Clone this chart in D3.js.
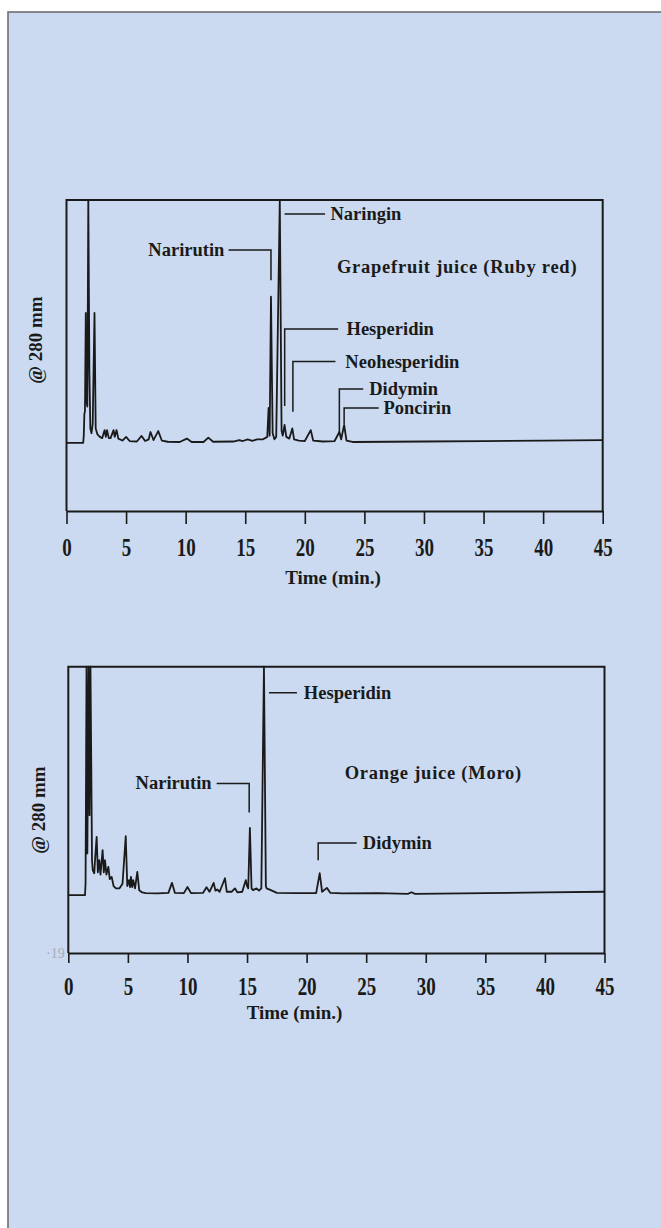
<!DOCTYPE html>
<html>
<head>
<meta charset="utf-8">
<script src="https://cdn.jsdelivr.net/npm/d3@7"></script>
<style>
  html, body { margin: 0; padding: 0; background: #fff; }
  svg { display: block; }
  text { font-family: "Liberation Serif", "Times New Roman", serif; fill: #1a1a1a; }
</style>
</head>
<body>
<svg id="chart" width="661" height="1228"></svg>
<script>
// time axis ticks (min.)
const timeTicks = [0, 5, 10, 15, 20, 25, 30, 35, 40, 45];

// Grapefruit juice (Ruby red) trace: [time (min), signal], baseline = 0, frame top = 100
const grapefruitTrace = [
  [0, 0], [1.4, 0], [1.45, 3], [1.5, 12], [1.55, 13], [1.62, 53.5], [1.68, 17], [1.75, 15],
  [1.83, 130], [1.92, 30], [2.0, 6], [2.1, 4], [2.2, 8], [2.35, 53.5], [2.45, 6], [2.6, 3.5],
  [2.8, 2.5], [3.0, 2], [3.2, 5.3], [3.3, 2.5], [3.4, 5.3], [3.55, 2], [3.7, 2], [3.95, 5.3],
  [4.05, 2.5], [4.2, 5.3], [4.35, 1.8], [4.7, 1], [5.0, 2.5], [5.3, 0.8], [5.9, 0.6], [6.3, 2.9],
  [6.6, 0.8], [6.9, 1.5], [7.05, 4.5], [7.3, 1.2], [7.7, 4.9], [8.0, 1], [8.5, 0.5], [9.5, 0.4],
  [10.1, 1.8], [10.5, 0.4], [11.5, 0.4], [11.9, 2.2], [12.3, 0.5], [14.0, 0.6], [14.5, 1.2],
  [14.8, 0.8], [15.2, 1.5], [15.6, 0.9], [16.0, 1.5], [16.5, 1.5], [16.85, 2.5], [16.96, 14.4],
  [17.05, 3], [17.16, 60.2], [17.3, 4], [17.45, 1.5], [17.6, 2.5], [17.9, 130], [18.05, 5],
  [18.15, 3], [18.3, 7.4], [18.45, 2.5], [18.7, 1.8], [18.95, 6], [19.1, 1.5], [19.5, 1],
  [20.0, 0.8], [20.5, 5.3], [20.7, 1], [21.5, 0.6], [22.5, 0.8], [22.9, 4.5], [23.05, 1.5],
  [23.3, 7.4], [23.5, 1], [24, 0.4], [30, 0.6], [35, 0.8], [40, 1], [45, 1.2]
];

// Orange juice (Moro) trace
const orangeTrace = [
  [0, 0], [1.4, 0], [1.45, 5.2], [1.53, 130], [1.6, 18.3], [1.7, 130], [1.78, 35], [1.86, 130],
  [1.99, 15.3], [2.05, 11], [2.18, 9.6], [2.25, 16], [2.38, 25.5], [2.48, 10], [2.6, 15.3],
  [2.7, 9], [2.88, 19.7], [2.98, 10], [3.08, 15.3], [3.2, 9], [3.36, 12.4], [3.48, 7], [3.64, 8],
  [3.8, 4], [4.0, 3], [4.3, 3], [4.55, 5], [4.82, 25.8], [4.95, 4], [5.1, 6.6], [5.18, 3.5],
  [5.26, 8], [5.36, 3.5], [5.45, 6.6], [5.6, 3], [5.79, 10.2], [5.95, 2.2], [6.2, 1.2],
  [6.5, 0.9], [7.5, 0.8], [8.4, 1], [8.7, 5.4], [8.95, 1], [9.7, 0.9], [10.0, 3.6], [10.3, 0.9],
  [11.3, 1], [11.6, 3.5], [11.85, 1.5], [12.2, 5.4], [12.35, 2], [12.5, 2.5], [12.7, 1.5],
  [13.15, 7.4], [13.3, 1.5], [13.7, 1.5], [13.98, 3], [14.2, 1.2], [14.6, 1.5], [14.8, 5],
  [14.9, 6.6], [15.0, 4], [15.1, 3], [15.24, 29.4], [15.38, 3], [15.5, 2.2], [15.8, 3],
  [16.0, 2], [16.2, 3], [16.42, 130], [16.58, 4], [16.64, 3], [17.0, 2.2], [17.5, 1], [19, 0.9],
  [20.8, 0.9], [21.1, 9.6], [21.3, 1.5], [21.7, 3.2], [22.0, 1], [23, 0.8], [26, 0.9],
  [28.5, 0.6], [28.8, 1.3], [29.1, 0.6], [35, 0.9], [40, 1.2], [45, 1.5]
];

// peak names
const grapefruitPeaks = ["Narirutin", "Naringin", "Hesperidin", "Neohesperidin", "Didymin", "Poncirin"];
const orangePeaks = ["Narirutin", "Hesperidin", "Didymin"];

const titles = ["Grapefruit juice (Ruby red)", "Orange juice (Moro)"];
const yLabel = "@ 280 mm";
const xLabel = "Time (min.)";

const svg = d3.select('#chart');
const ink = '#1a1a1a';

// background panel
svg.append('rect').attr('x', 0).attr('y', 0).attr('width', 661).attr('height', 1228).attr('fill', '#fff');
svg.append('rect')
    .attr('x', 8).attr('y', 12).attr('width', 680).attr('height', 1240)
    .attr('fill', '#cbdaf0').attr('stroke', '#6e6e6e').attr('stroke-width', 1.6);

// leader layouts in data units: peak time, vertical from/to, end of horizontal, label time
const grapefruitLeaders = {
    Narirutin:     { t: 17.16, y0: 67,   y1: 79.4, tx: 13.6, lt: 13.25, anchor: 'end' },
    Naringin:      { t: 18.3,  y0: 94.2, y1: 94.2, tx: 21.7, lt: 22.15 },
    Hesperidin:    { t: 18.31, y0: 15.2, y1: 46.9, tx: 22.8, lt: 23.5 },
    Neohesperidin: { t: 19.0,  y0: 12.8, y1: 33.5, tx: 22.57, lt: 23.4 },
    Didymin:       { t: 22.9,  y0: 4.1,  y1: 22.2, tx: 24.9, lt: 25.4 },
    Poncirin:      { t: 23.3,  y0: 7.8,  y1: 14.4, tx: 26.2, lt: 26.6 }
};
const orangeLeaders = {
    Narirutin:  { t: 15.18, y0: 36.2, y1: 48.9, tx: 12.45, lt: 12.03, anchor: 'end' },
    Hesperidin: { t: 16.84, y0: 88.6, y1: 88.6, tx: 19.19, lt: 19.77 },
    Didymin:    { t: 20.97, y0: 15.3, y1: 22.8, tx: 24.2, lt: 24.72 }
};

function drawPanel(cfg) {
    const x = d3.scaleLinear().domain([0, 45]).range([cfg.left, cfg.right]);
    const y = d3.scaleLinear().domain([cfg.yMin, 100]).range([cfg.bottom, cfg.top]).clamp(true);
    const g = svg.append('g');

    // frame (top, left, right)
    g.append('path')
        .attr('d', `M${cfg.left},${cfg.bottom} V${cfg.top} H${cfg.right} V${cfg.bottom}`)
        .attr('fill', 'none').attr('stroke', ink).attr('stroke-width', 2);

    // x axis
    const axis = g.append('g')
        .attr('transform', `translate(0,${cfg.bottom})`)
        .call(d3.axisBottom(x).tickValues(timeTicks).tickSize(cfg.tickLen).tickSizeOuter(0));
    axis.select('.domain').attr('stroke', ink).attr('stroke-width', 2);
    axis.selectAll('.tick line').attr('stroke', ink).attr('stroke-width', 1.6);
    axis.selectAll('.tick text')
        .attr('y', null).attr('dy', null)
        .attr('dominant-baseline', 'central')
        .attr('transform', `translate(0,${cfg.labelOff}) scale(1,1.3)`)
        .style('font-family', '"Liberation Serif", serif')
        .style('font-size', '19px').style('font-weight', 'bold').attr('fill', ink);

    // trace
    const line = d3.line().x(d => x(d[0])).y(d => y(d[1]));
    g.append('path')
        .datum(cfg.trace)
        .attr('d', line)
        .attr('fill', 'none').attr('stroke', ink).attr('stroke-width', 1.8)
        .attr('stroke-linejoin', 'round');

    // leaders and labels
    cfg.peaks.forEach(name => {
        const L = cfg.leaders[name];
        const p = d3.path();
        p.moveTo(x(L.t), y(L.y0));
        p.lineTo(x(L.t), y(L.y1));
        p.lineTo(x(L.tx), y(L.y1));
        g.append('path').attr('d', p.toString())
            .attr('fill', 'none').attr('stroke', ink).attr('stroke-width', 1.5);
        g.append('text')
            .attr('x', x(L.lt)).attr('y', y(L.y1))
            .attr('dominant-baseline', 'central')
            .attr('text-anchor', L.anchor || 'start')
            .style('font-size', '18.5px').style('font-weight', 'bold')
            .text(name);
    });

    // title
    g.append('text')
        .attr('x', x(cfg.titleT)).attr('y', y(cfg.titleY))
        .attr('dominant-baseline', 'central')
        .style('font-size', '18.5px').style('font-weight', 'bold').style('letter-spacing', '0.75px')
        .text(cfg.title);

    // y label
    g.append('text')
        .attr('transform', `translate(${cfg.yLabelX},${cfg.yLabelY}) rotate(-90)`)
        .attr('text-anchor', 'middle').attr('dominant-baseline', 'central')
        .style('font-size', '19px').style('font-weight', 'bold')
        .text(yLabel);

    // x label
    g.append('text')
        .attr('x', cfg.xLabelX).attr('y', cfg.bottom + cfg.xLabelOff)
        .attr('text-anchor', 'middle').attr('dominant-baseline', 'central')
        .style('font-size', '19px').style('font-weight', 'bold')
        .text(xLabel);
}

drawPanel({
    left: 66.5, right: 602.7, top: 200, bottom: 511, yMin: -28,
    tickLen: 13, labelOff: 37,
    trace: grapefruitTrace, peaks: grapefruitPeaks, leaders: grapefruitLeaders,
    title: titles[0], titleT: 22.7, titleY: 72.4,
    yLabelX: 35, yLabelY: 340, xLabelX: 333, xLabelOff: 66
});

drawPanel({
    left: 68.3, right: 604.5, top: 666.7, bottom: 953, yMin: -25.3,
    tickLen: 10, labelOff: 34,
    trace: orangeTrace, peaks: orangePeaks, leaders: orangeLeaders,
    title: titles[1], titleT: 23.2, titleY: 53.3,
    yLabelX: 38, yLabelY: 810, xLabelX: 294.5, xLabelOff: 59
});

// faint scan mark left of the lower axis
svg.append('text')
    .attr('x', 46).attr('y', 953).attr('dominant-baseline', 'central')
    .style('font-size', '14px').style('fill', '#a3acbc')
    .text('·19');
</script>
</body>
</html>
